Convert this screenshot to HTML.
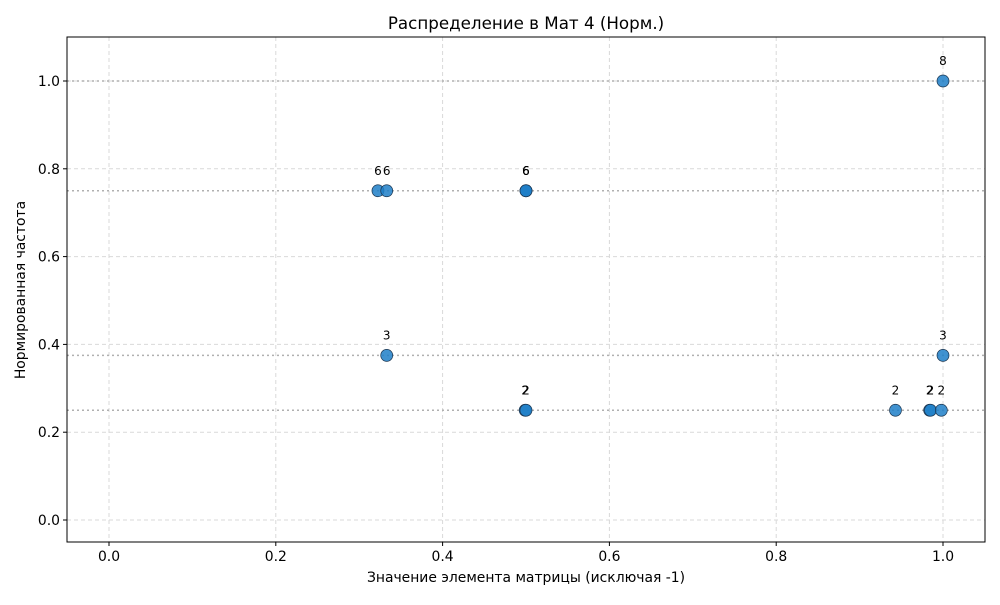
<!DOCTYPE html>
<html><head><meta charset="utf-8"><style>
body{margin:0;background:#fff;}
svg{font-family:"DejaVu Sans","Liberation Sans",sans-serif;}
</style></head><body>
<svg id="chart" width="1000" height="600">
<rect x="0" y="0" width="1000" height="600" fill="#fff"/>
<text x="526" y="29" font-size="16.7" text-anchor="middle">Распределение в Мат 4 (Норм.)</text>
<g id="grid"></g><g id="hlines"></g><g id="pts"></g>
<rect x="67" y="37" width="918" height="505" fill="none" stroke="#000" stroke-width="1"/>
<g id="axes"></g>
<text x="526" y="582" font-size="13.9" text-anchor="middle">Значение элемента матрицы (исключая -1)</text>
<text transform="translate(25,290) rotate(-90)" font-size="13.9" text-anchor="middle">Нормированная частота</text>
</svg>
<script>
const xVals=[0.3225,0.333,0.5,0.5,0.5,1.0,0.333,1.0,0.499,0.5,0.943,0.984,0.985,0.998];
const yVals=[0.75,0.75,0.75,0.75,0.75,1.0,0.375,0.375,0.25,0.25,0.25,0.25,0.25,0.25];
const counts=["6","6","6","6","6","8","3","3","2","2","2","2","2","2"];
const xTicks=[0,0.2,0.4,0.6,0.8,1.0];
const yTicks=[0,0.2,0.4,0.6,0.8,1.0];
const refLevels=[1.0,0.75,0.375,0.25];
const NS="http://www.w3.org/2000/svg";
const X=v=>109+v*834, Y=v=>520-v*439;
function mk(t,a,p){const e=document.createElementNS(NS,t);for(const k in a)e.setAttribute(k,a[k]);document.getElementById(p).appendChild(e);return e;}
xTicks.forEach(v=>{
 const g=mk('line',{x1:X(v),x2:X(v),y1:37,y2:542,stroke:'#d9d9d9','stroke-dasharray':'4,3'},'grid');
 
 
 mk('line',{x1:X(v),x2:X(v),y1:542,y2:546,stroke:'#000'},'axes');
 const t=mk('text',{x:X(v),y:561,'font-size':13.9,'text-anchor':'middle'},'axes');t.textContent=v.toFixed(1);
 
 
});
yTicks.forEach(v=>{
 const g=mk('line',{x1:67,x2:985,y1:Y(v),y2:Y(v),stroke:'#d9d9d9','stroke-dasharray':'4,3'},'grid');
 
 
 mk('line',{x1:63,x2:67,y1:Y(v),y2:Y(v),stroke:'#000'},'axes');
 const t=mk('text',{x:60,y:Y(v)+5,'font-size':13.9,'text-anchor':'end'},'axes');t.textContent=v.toFixed(1);
 
 
});
refLevels.forEach(v=>{
 const l=mk('line',{x1:67,x2:985,y1:Y(v),y2:Y(v),stroke:'#b0b0b0','stroke-width':1.5,'stroke-dasharray':'2,3'},'hlines');
 
 
});
xVals.forEach((v,i)=>{
 const c=mk('circle',{cx:X(v),cy:Y(yVals[i]),r:6,fill:'#1f7fc8','fill-opacity':0.85,stroke:'#1a3550','stroke-width':0.7},'pts');
 
 
 const t=mk('text',{x:X(v),y:Y(yVals[i])-16,'font-size':12,'text-anchor':'middle'},'pts');t.textContent=counts[i];
 
 
});
</script>
</body></html>
